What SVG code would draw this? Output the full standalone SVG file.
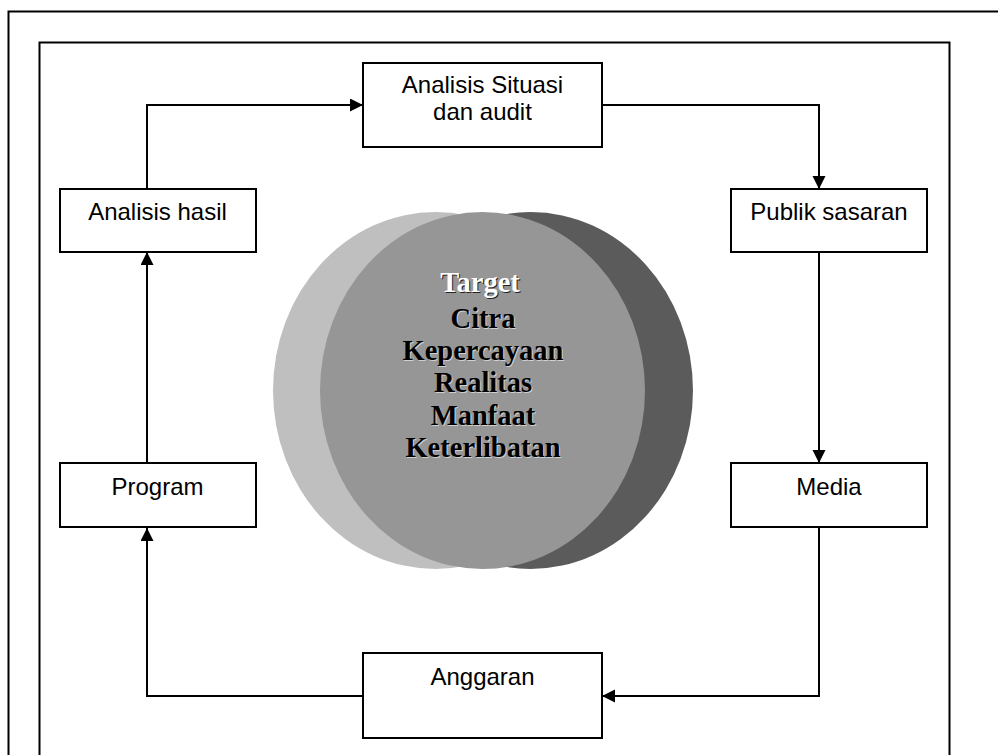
<svg xmlns="http://www.w3.org/2000/svg" width="998" height="755" viewBox="0 0 998 755">
<style>
.frame{fill:none;stroke:#000;stroke-width:2}
.box{fill:#fff;stroke:#000;stroke-width:2}
.lbl{font-family:"Liberation Sans",Arial,sans-serif;font-size:24px;fill:#000;text-anchor:middle}
.conn{fill:none;stroke:#000;stroke-width:2}
.tgt{font-family:"Liberation Serif","Times New Roman",serif;font-weight:bold;font-size:28.5px;text-anchor:middle}
.sh{fill:#d0d0d0}
.blk{fill:#000}
.wsh{fill:#222}
.wht{fill:#fff}
</style>
<defs>
<marker id="arr" markerUnits="userSpaceOnUse" markerWidth="14" markerHeight="14" refX="13" refY="6.5" orient="auto">
<path d="M0,0 L13,6.5 L0,13 Z" fill="#000"/>
</marker>
</defs>
<rect width="998" height="755" fill="#fff"/>
<rect class="frame" x="8.5" y="11.5" width="1010" height="800"/>
<rect class="frame" x="39.5" y="42.5" width="910" height="770"/>

<g id="target">
<ellipse cx="435.5" cy="390.5" rx="162.5" ry="178.5" fill="#bfbfbf"/>
<ellipse cx="530.5" cy="390.5" rx="162.5" ry="178.5" fill="#5b5b5b"/>
<ellipse cx="482.5" cy="390.5" rx="162.5" ry="178.5" fill="#969696"/>
<text class="tgt wsh" x="481" y="293">Target</text>
<text class="tgt wht" x="480" y="292">Target</text>
<g>
<text class="tgt sh" x="484" y="329">Citra</text>
<text class="tgt blk" x="483" y="328">Citra</text>
<text class="tgt sh" x="484" y="361">Kepercayaan</text>
<text class="tgt blk" x="483" y="360">Kepercayaan</text>
<text class="tgt sh" x="484" y="393">Realitas</text>
<text class="tgt blk" x="483" y="392">Realitas</text>
<text class="tgt sh" x="484" y="426">Manfaat</text>
<text class="tgt blk" x="483" y="425">Manfaat</text>
<text class="tgt sh" x="484" y="458">Keterlibatan</text>
<text class="tgt blk" x="483" y="457">Keterlibatan</text>
</g>
</g>

<g id="connectors">
<polyline class="conn" points="602,105 819,105 819,189" marker-end="url(#arr)"/>
<line class="conn" x1="819" y1="252" x2="819" y2="463" marker-end="url(#arr)"/>
<polyline class="conn" points="819,527 819,696 602,696" marker-end="url(#arr)"/>
<polyline class="conn" points="363,696 147,696 147,528" marker-end="url(#arr)"/>
<line class="conn" x1="147" y1="463" x2="147" y2="252" marker-end="url(#arr)"/>
<polyline class="conn" points="147,189 147,105 363,105" marker-end="url(#arr)"/>
</g>

<g id="analisis-situasi">
<rect class="box" x="363" y="63" width="239" height="84"/>
<text class="lbl" x="482.5" y="93">Analisis Situasi</text>
<text class="lbl" x="482.5" y="120">dan audit</text>
</g>
<g id="publik-sasaran">
<rect class="box" x="731" y="189" width="196" height="63"/>
<text class="lbl" x="829" y="220">Publik sasaran</text>
</g>
<g id="media">
<rect class="box" x="731" y="463" width="196" height="64"/>
<text class="lbl" x="829" y="495">Media</text>
</g>
<g id="anggaran">
<rect class="box" x="363" y="653" width="239" height="85"/>
<text class="lbl" x="482.5" y="685">Anggaran</text>
</g>
<g id="program">
<rect class="box" x="60" y="463" width="196" height="64"/>
<text class="lbl" x="157.5" y="495">Program</text>
</g>
<g id="analisis-hasil">
<rect class="box" x="60" y="189" width="196" height="63"/>
<text class="lbl" x="157.5" y="220">Analisis hasil</text>
</g>
</svg>
